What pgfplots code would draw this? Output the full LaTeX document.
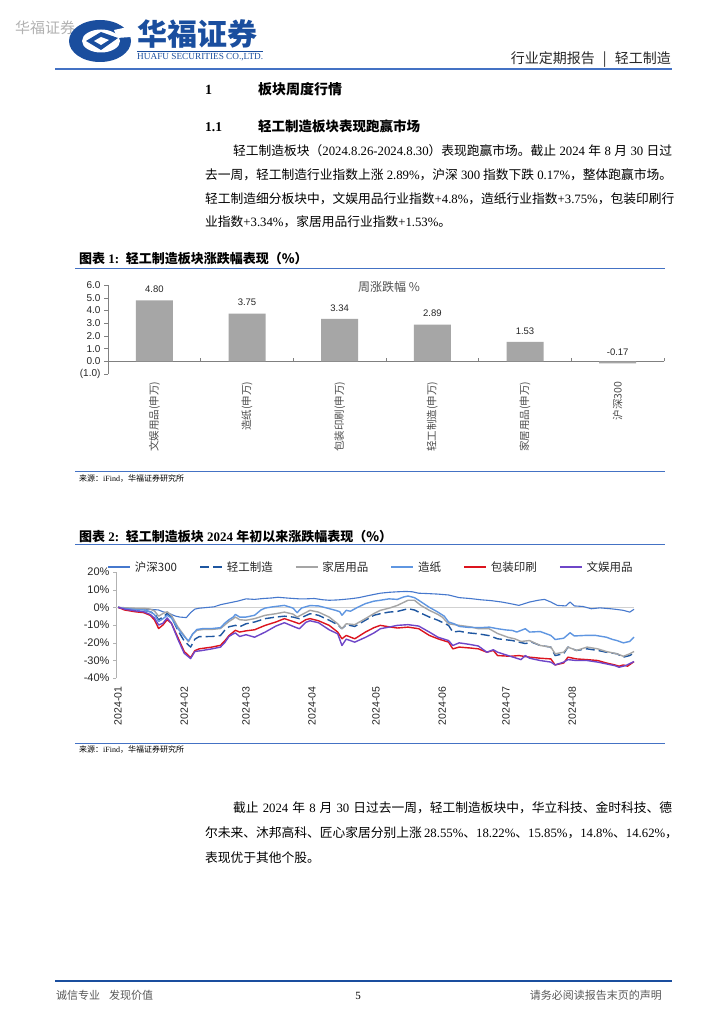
\documentclass[border=0pt]{standalone}
\usepackage{fontspec}
\setmainfont{Liberation Serif}
\setsansfont{Liberation Sans}
\newfontfamily\cjk{Noto Sans CJK SC}
\usepackage{graphicx}
\usepackage{pgfplots}
\pgfplotsset{compat=1.18}
\XeTeXlinebreaklocale "zh"
\XeTeXlinebreakskip=0pt plus 3pt
\newcommand\zh[1]{{\cjk #1}}
\newcommand\fs[1]{\fontsize{#1}{#1}\selectfont}
\definecolor{hfblue}{RGB}{68,114,196}
\definecolor{logoblue}{RGB}{26,78,158}
\definecolor{barGray}{RGB}{166,166,166}
\definecolor{cHS}{RGB}{70,120,205}
\definecolor{cQG}{RGB}{30,86,160}
\definecolor{cJJ}{RGB}{165,165,165}
\definecolor{cZZ}{RGB}{95,150,225}
\definecolor{cBZ}{RGB}{220,20,30}
\definecolor{cWY}{RGB}{110,70,200}
\begin{document}
\begin{tikzpicture}[x=1pt,y=1pt]
\fill[white] (0,0) rectangle (724,-1024);
\path[use as bounding box] (0,0) rectangle (724,-1024);

% ---------- header ----------
\node[anchor=west,inner sep=0,text=black!30] at (15,-28) {\cjk\fs{15}华福证券};
\fill[logoblue] (100,-41) ellipse [x radius=31, y radius=21];
\fill[white] (101,-41) ellipse [x radius=19, y radius=11.5];
\fill[white] (114,-30) -- (128,-27) -- (131,-37) -- (117,-38) -- cycle;
\fill[logoblue] (86,-41) -- (101,-32) -- (118,-38) -- (101,-50) -- cycle;
\fill[white] (94,-41) -- (101,-37) -- (109,-40) -- (101,-45) -- cycle;
\node[anchor=west,inner sep=0,text=logoblue] at (137,-34) {\cjk\bfseries\fs{30}\makebox[126pt][s]{华福证券}};
\draw[logoblue,line width=0.6] (137,-51.5) -- (263,-51.5);
\node[anchor=west,inner sep=0,text=logoblue] at (137,-57.5) {\resizebox{126pt}{!}{\fs{8}HUAFU SECURITIES CO.,LTD.}};
\node[anchor=base east,inner sep=0,text=black!85] at (671,-63.5) {\cjk\fs{14}\makebox[160pt][s]{行业定期报告 \textbar\ 轻工制造}};
\draw[hfblue,line width=2] (55,-69) -- (672,-69);

% ---------- section headings ----------
\node[anchor=base west,inner sep=0] at (205,-94.5) {\fs{14}\bfseries 1};
\node[anchor=base west,inner sep=0] at (258,-94.5) {\cjk\bfseries\fs{14}板块周度行情};
\node[anchor=base west,inner sep=0] at (205,-131.5) {\fs{13.5}\bfseries 1.1};
\node[anchor=base west,inner sep=0] at (258,-131.5) {\cjk\bfseries\fs{13.5}轻工制造板块表现跑赢市场};

% ---------- body text ----------
\node[anchor=base west,inner sep=0] at (233,-156) {\fs{12.75}\makebox[439pt][s]{\zh{轻工制造板块（}2024.8.26-2024.8.30\zh{）表现跑赢市场。截止} 2024 \zh{年} 8 \zh{月} 30 \zh{日过}}};
\node[anchor=base west,inner sep=0] at (205,-180) {\fs{12.75}\makebox[467pt][s]{\zh{去一周，轻工制造行业指数上涨} 2.89\%\zh{，沪深} 300 \zh{指数下跌} 0.17\%\zh{，整体跑赢市场。}}};
\node[anchor=base west,inner sep=0] at (205,-203.5) {\fs{12.75}\makebox[467pt][s]{\zh{轻工制造细分板块中，文娱用品行业指数}+4.8\%\zh{，造纸行业指数}+3.75\%\zh{，包装印刷行}}};
\node[anchor=base west,inner sep=0] at (205,-226.5) {\fs{12.75}\zh{业指数}+3.34\%\zh{，家居用品行业指数}+1.53\%\zh{。}};

% ---------- chart 1 ----------
\node[anchor=base west,inner sep=0] at (79,-263) {\fs{13}\bfseries\zh{图表} 1:\ \ \zh{轻工制造板块涨跌幅表现（\%）}};
\draw[hfblue,line width=1.2] (75,-268.5) -- (665,-268.5);
\begin{axis}[
  at={(108pt,-374pt)}, anchor=south west,
  scale only axis, width=556pt, height=89pt,
  xmin=-0.5, xmax=5.5, ymin=-1, ymax=6,
  enlarge x limits=false, enlarge y limits=false,
  axis y line*=left, axis x line*=bottom,
  x axis line style={draw=none},
  y axis line style={draw=black!50},
  tick align=outside, major tick length=4pt,
  ytick={-1,0,1,2,3,4,5,6},
  yticklabels={(1.0),0.0,1.0,2.0,3.0,4.0,5.0,6.0},
  ytick style={draw=black!50},
  yticklabel style={font=\sffamily\fs{10}, text=black!85},
  xtick={0,1,2,3,4,5},
  xticklabels={文娱用品(申万),造纸(申万),包装印刷(申万),轻工制造(申万),家居用品(申万),沪深300},
  xtick style={draw=none},
  xticklabel style={rotate=90, anchor=east, font=\cjk\fs{10.5}, text=black!70},
  extra y ticks={0}, extra y tick labels={},
  extra y tick style={grid=major, major grid style={draw=black!50, line width=0.8pt}},
  ybar, bar width=37pt,
  nodes near coords, point meta=explicit symbolic,
  nodes near coords style={font=\sffamily\fs{9.5}, text=black!85, inner ysep=7.5pt},
  clip=false,
]
\addplot[fill=barGray, draw=none] table[x=x,y=y,meta=lab] {
x y lab
0 4.80 4.80
1 3.75 3.75
2 3.34 3.34
3 2.89 2.89
4 1.53 1.53
5 -0.17 -0.17
};
\pgfplotsinvokeforeach{0.5,1.5,2.5,3.5,4.5,5.5}{\draw[black!50] (axis cs:#1,0) -- ++(0pt,3pt);}
\end{axis}
\node[anchor=west,inner sep=0,text=black!70] at (358,-287) {\cjk\fs{12}周涨跌幅 \%};
\draw[hfblue,line width=1.2] (75,-471.5) -- (665,-471.5);
\node[anchor=base west,inner sep=0] at (79,-481) {\fs{8}\zh{来源：}iFind\zh{，华福证券研究所}};

% ---------- chart 2 ----------
\node[anchor=base west,inner sep=0] at (79,-541) {\fs{13}\bfseries\zh{图表} 2:\ \ \zh{轻工制造板块} 2024 \zh{年初以来涨跌幅表现（\%）}};
\draw[hfblue,line width=1.2] (75,-544.5) -- (665,-544.5);
\begin{axis}[
  at={(116pt,-678pt)}, anchor=south west,
  scale only axis, width=518pt, height=106pt,
  xmin=-1, xmax=242, ymin=-40, ymax=20,
  enlarge x limits=false, enlarge y limits=false,
  axis y line*=left, axis x line*=bottom,
  x axis line style={draw=none},
  y axis line style={draw=black!30},
  tick align=outside, major tick length=3pt,
  ytick={-40,-30,-20,-10,0,10,20},
  yticklabels={-40\%,-30\%,-20\%,-10\%,0\%,10\%,20\%},
  ytick style={draw=black!30},
  yticklabel style={font=\sffamily\fs{11}, text=black!85},
  xtick={0,31,60,91,121,152,182,213},
  xticklabels={2024-01,2024-02,2024-03,2024-04,2024-05,2024-06,2024-07,2024-08},
  xtick style={draw=none},
  xticklabel shift=2pt,
  xticklabel style={rotate=90, anchor=east, font=\sffamily\fs{10.5}, text=black!85},
  extra y ticks={0}, extra y tick labels={},
  extra y tick style={grid=major, major grid style={draw=black!18, line width=1.2pt}},
  legend columns=6,
  legend cell align=left,
  legend style={at={(axis description cs:-0.017,1.047)}, anchor=west, draw=none, fill=none,
    inner sep=0pt, font=\cjk\fs{11.5}, text=black!85,
    /tikz/every even column/.append style={column sep=20pt}},
  legend image code/.code={\draw[#1,line width=2pt] (0pt,0pt) -- (22pt,0pt); \path (24pt,0pt);},
  every axis plot/.append style={line join=round, mark=none},
  clip=false,
]
\addplot[cHS, line width=1.1pt] coordinates {
(0,0) (4,-0.5) (8,-0.8) (12,-1.0) (16,-1.2) (19,-1.5) (21,-2.5) (24,-3.5) (27,-5.0) (29,-5.5) (32,-5.8) (34,-3.0) (36,-1.0) (38,-0.5) (45,0.3) (48,1.5) (52,2.5) (56,3.5) (60,4.8) (64,4.5) (68,5.0) (72,5.3) (75,5.7) (80,5.2) (85,4.8) (88,4.8) (92,5.0) (96,4.3) (99,4.0) (103,4.2) (106,4.5) (110,5.0) (113,5.5) (116,6.3) (120,7.3) (123,8.0) (127,8.5) (131,8.8) (135,9.0) (138,8.8) (141,8.0) (145,7.8) (150,7.5) (155,7.0) (160,5.5) (165,5.0) (170,4.3) (175,3.8) (180,3.0) (184,2.1) (188,1.1) (193,3.0) (197,4.0) (200,4.5) (203,3.0) (206,1.1) (210,0.8) (212,3.0) (214,0.8) (218,0.5) (222,-0.8) (226,-0.3) (231,-0.8) (234,-1.2) (237,-1.7) (240,-2.7) (242,-1.1)
};
\addlegendentry{沪深300}
\addplot[cQG, line width=1.4pt, dash pattern=on 9pt off 4pt] coordinates {
(0,0) (4,-0.8) (8,-1.3) (12,-1.7) (15,-2.5) (17,-3.5) (19,-7) (21,-5.5) (23,-3.5) (25,-5.5) (28,-13) (31,-19) (34,-22.5) (36,-18) (38,-16.6) (44,-16.5) (48,-16) (50,-13) (52,-11) (55,-10.2) (57,-11) (60,-9.3) (64,-8.3) (69,-6.4) (74,-5.5) (78,-5.0) (82,-5.5) (85,-6.4) (90,-3.6) (94,-4.5) (99,-7.3) (103,-9.8) (105,-12.1) (107,-9.8) (111,-10.8) (116,-7.3) (120,-4.5) (123,-3.6) (127,-2.7) (131,-2.3) (136,-0.8) (139,-1.5) (141,-2.7) (146,-5.5) (150,-7.3) (155,-10.2) (157,-14) (160,-13.5) (164,-14.4) (169,-15) (174,-16) (178,-17.8) (185,-18.8) (188,-19.7) (191,-20.5) (194,-19.7) (198,-21.6) (203,-22.5) (205,-27.3) (209,-26.3) (211,-22.5) (215,-24.4) (220,-23.5) (225,-24.4) (229,-25.4) (234,-26.3) (237,-28.2) (240,-27.3) (242,-25.8)
};
\addlegendentry{轻工制造}
\addplot[cJJ, line width=1.4pt] coordinates {
(0,0) (4,-0.3) (8,-0.5) (12,-0.5) (15,-1) (17,-2) (19,-5) (21,-3.5) (23,-2.5) (25,-4.5) (28,-11) (31,-16) (33,-19.5) (35,-15) (37,-13) (40,-12.5) (44,-12.5) (48,-12) (50,-10) (52,-8) (54,-6.5) (55,-5.5) (57,-7) (60,-7.3) (64,-6.4) (69,-4.5) (74,-3.6) (78,-2.7) (82,-3.8) (84,-5.5) (87,-3.6) (90,-1.7) (94,-2.7) (99,-5.5) (103,-9.3) (105,-12.1) (107,-9.3) (111,-9.8) (116,-6.4) (120,-3.5) (123,-1.7) (127,-0.5) (131,1.1) (136,4.0) (139,4.0) (142,1.1) (146,-1.7) (150,-4) (152,-5.5) (155,-9.3) (160,-10.2) (165,-11) (169,-12.1) (174,-12.1) (178,-14.8) (183,-17) (186,-17.8) (189,-19.3) (193,-18.8) (198,-21.6) (203,-22.5) (205,-26.3) (209,-25.4) (211,-22.5) (215,-24.4) (220,-22.5) (225,-23.5) (229,-25) (234,-26.3) (237,-27.7) (240,-26.3) (242,-25)
};
\addlegendentry{家居用品}
\addplot[cZZ, line width=1.4pt] coordinates {
(0,0) (4,-0.8) (8,-1.2) (12,-1.5) (15,-2.5) (17,-4) (19,-8) (21,-6.5) (23,-4.5) (25,-6) (28,-12) (31,-16.5) (33,-19) (35,-15) (37,-12.5) (40,-12) (44,-12) (48,-11.5) (50,-9) (52,-7) (54,-5.5) (55,-4) (57,-5.5) (60,-5.5) (64,-4.5) (67,-1.5) (69,-0.4) (72,0.2) (76,0.8) (78,1.1) (82,-0.4) (84,-3) (86,-0.4) (90,1.0) (94,0.8) (98,-0.4) (102,-1.7) (104,-2.5) (105,-4.5) (107,-1.7) (109,-2.2) (112,-0.2) (116,2.1) (120,3.5) (123,4.0) (127,4.8) (131,4.5) (134,5.9) (136,6.4) (139,5.5) (141,4.0) (146,0.0) (150,-2.7) (153,-5) (155,-8.3) (158,-9.5) (160,-10.8) (164,-11.3) (170,-11.5) (174,-11.2) (178,-12.1) (182,-12.8) (185,-13.1) (187,-14) (191,-12.1) (193,-14) (198,-13.7) (203,-15.9) (205,-18.2) (209,-17.5) (212,-14.4) (214,-16.2) (219,-15.9) (224,-15.9) (229,-16.9) (232,-18.2) (234,-18.8) (237,-20.1) (240,-19.3) (242,-16.9)
};
\addlegendentry{造纸}
\addplot[cBZ, line width=1.4pt] coordinates {
(0,0) (3,-1.5) (8,-2.5) (12,-3) (15,-4.5) (17,-7) (19,-12) (21,-10) (23,-7) (25,-9) (28,-17) (31,-25) (34,-28.5) (36,-24.5) (38,-23.5) (44,-22.5) (48,-21.5) (50,-19) (52,-16) (54,-14) (55,-13) (57,-14) (60,-13.3) (64,-12.7) (69,-10.2) (74,-8.3) (78,-6.4) (82,-8.0) (85,-9.3) (88,-7) (90,-6.4) (94,-7.6) (99,-10.2) (103,-14) (105,-17.8) (107,-15.9) (111,-17.8) (116,-14) (120,-11.5) (123,-10.2) (127,-11) (131,-11.7) (136,-11.2) (141,-12.1) (146,-15.9) (150,-17.8) (155,-19.7) (157,-23.5) (160,-22.5) (165,-23) (169,-23.5) (173,-25.4) (176,-24.4) (178,-27.3) (184,-27.7) (188,-27.3) (193,-28.2) (198,-28.8) (203,-29.2) (205,-32.6) (209,-31.5) (211,-28.2) (215,-29.2) (220,-29.6) (225,-30.1) (229,-31.5) (233,-32.6) (235,-33.3) (237,-32.6) (239,-33.3) (242,-30.7)
};
\addlegendentry{包装印刷}
\addplot[cWY, line width=1.4pt] coordinates {
(0,0) (3,-1) (8,-2) (12,-2.5) (15,-4) (17,-6) (19,-10) (21,-9) (23,-6) (25,-9) (28,-18) (31,-26) (34,-29) (36,-25) (39,-24.5) (44,-23.5) (48,-22.5) (50,-20) (52,-16.5) (54,-15) (55,-14.5) (57,-16.5) (60,-15.5) (64,-16.9) (69,-14.0) (74,-10.6) (78,-8.7) (83,-11.2) (85,-12.1) (88,-8.5) (90,-7.6) (94,-8.7) (99,-12.7) (103,-15) (105,-21.6) (107,-18) (111,-19.7) (116,-17) (120,-14.5) (123,-12.1) (127,-11.2) (131,-10.2) (136,-9.8) (141,-10.6) (146,-14) (150,-16.9) (155,-18.8) (157,-21.6) (160,-20.1) (165,-21) (169,-21.9) (173,-25.4) (176,-24) (178,-25.4) (184,-27.7) (189,-29.6) (191,-27.3) (193,-28.8) (198,-30.1) (203,-31) (205,-32.6) (209,-31) (211,-29.6) (215,-30.1) (220,-30.1) (225,-31) (229,-32) (233,-33) (235,-33.9) (238,-33) (242,-30.7)
};
\addlegendentry{文娱用品}
\end{axis}
\draw[hfblue,line width=1.2] (75,-743.5) -- (665,-743.5);
\node[anchor=base west,inner sep=0] at (79,-752) {\fs{8}\zh{来源：}iFind\zh{，华福证券研究所}};

% ---------- bottom text ----------
\node[anchor=base west,inner sep=0] at (233,-812) {\fs{12.75}\makebox[439pt][s]{\zh{截止} 2024 \zh{年} 8 \zh{月} 30 \zh{日过去一周，轻工制造板块中，华立科技、金时科技、德}}};
\node[anchor=base west,inner sep=0] at (205,-837) {\fs{12.75}\makebox[468pt][s]{\zh{尔未来、沐邦高科、匠心家居分别上涨} 28.55\%\zh{、}18.22\%\zh{、}15.85\%\zh{，}14.8\%\zh{、}14.62\%\zh{，}}};
\node[anchor=base west,inner sep=0] at (205,-862) {\fs{12.75}\zh{表现优于其他个股。}};

% ---------- footer ----------
\draw[logoblue,line width=1.5] (55,-981) -- (672,-981);
\node[anchor=base west,inner sep=0,text=black!65] at (56,-999) {\cjk\fs{11}诚信专业\hspace{9pt}发现价值};
\node[anchor=base,inner sep=0] at (358,-999) {\fs{11}5};
\node[anchor=base east,inner sep=0,text=black!65] at (662,-999) {\cjk\fs{11}请务必阅读报告末页的声明};
\end{tikzpicture}
\end{document}
